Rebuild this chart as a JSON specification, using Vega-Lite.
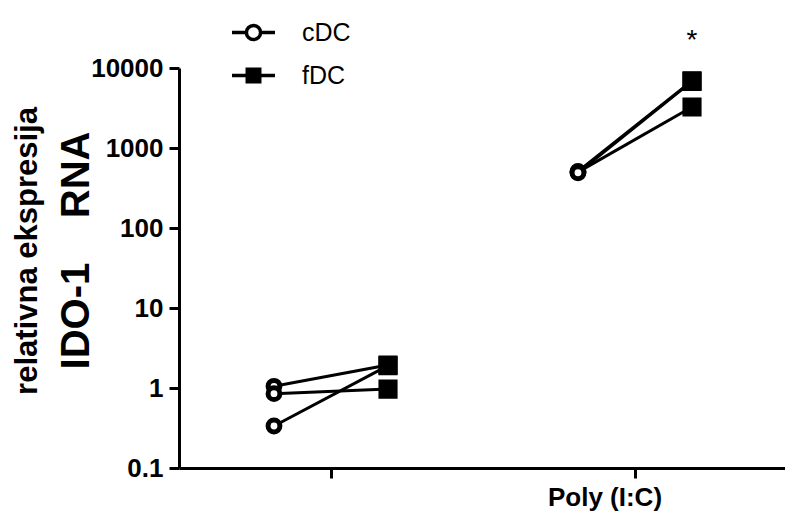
{
  "$schema": "https://vega.github.io/schema/vega-lite/v6.json",
  "width": 608,
  "height": 400,
  "autosize": {"type": "none"},
  "padding": {"left": 179, "top": 68, "right": 0, "bottom": 47},
  "background": "white",
  "config": {
    "font": "Liberation Sans",
    "view": {"stroke": null},
    "axis": {"grid": false, "domainColor": "black", "tickColor": "black", "labelColor": "black", "titleColor": "black", "domainWidth": 3, "tickWidth": 3}
  },
  "title": {
    "text": "relativna ekspresija",
    "orient": "left",
    "anchor": "middle",
    "offset": 12,
    "dx": 17,
    "fontSize": 31,
    "fontWeight": "bold",
    "color": "black",
    "font": "Liberation Sans"
  },
  "datasets": {
    "pts": [
      {"condition": "kontrola", "cell": "cDC", "pair": "1", "value": 1.05},
      {"condition": "kontrola", "cell": "fDC", "pair": "1", "value": 1.94},
      {"condition": "kontrola", "cell": "cDC", "pair": "2", "value": 0.85},
      {"condition": "kontrola", "cell": "fDC", "pair": "2", "value": 0.97},
      {"condition": "kontrola", "cell": "cDC", "pair": "3", "value": 0.335},
      {"condition": "kontrola", "cell": "fDC", "pair": "3", "value": 1.9},
      {"condition": "Poly (I:C)", "cell": "cDC", "pair": "4", "value": 510},
      {"condition": "Poly (I:C)", "cell": "fDC", "pair": "4", "value": 6900},
      {"condition": "Poly (I:C)", "cell": "cDC", "pair": "5", "value": 500},
      {"condition": "Poly (I:C)", "cell": "fDC", "pair": "5", "value": 3250},
      {"condition": "Poly (I:C)", "cell": "cDC", "pair": "6", "value": 490},
      {"condition": "Poly (I:C)", "cell": "fDC", "pair": "6", "value": 6800}
    ],
    "sig": [
      {"condition": "Poly (I:C)", "cell": "fDC", "value": 6900, "label": "*"}
    ]
  },
  "encoding": {
    "x": {
      "field": "condition",
      "type": "nominal",
      "sort": ["kontrola", "Poly (I:C)"],
      "scale": {"domain": ["kontrola", "Poly (I:C)"], "paddingInner": 0, "paddingOuter": 0},
      "axis": {
        "title": null,
        "labelAngle": 0,
        "labelExpr": "datum.value == 'Poly (I:C)' ? datum.value : ''",
        "labelFontSize": 26,
        "labelFontWeight": "bold",
        "labelPadding": 6,
        "labelOffset": -30,
        "tickSize": 10
      }
    },
    "xOffset": {
      "field": "cell",
      "type": "nominal",
      "scale": {"domain": ["cDC", "fDC"], "padding": 0.833}
    },
    "y": {
      "field": "value",
      "type": "quantitative",
      "scale": {"type": "log", "domain": [0.1, 10000], "nice": false},
      "axis": {
        "values": [0.1, 1, 10, 100, 1000, 10000],
        "format": "~g",
        "labelFontSize": 26,
        "labelFontWeight": "bold",
        "labelPadding": 6,
        "tickSize": 10,
        "title": "IDO-1\u00a0\u00a0\u00a0\u00a0RNA",
        "titleFontSize": 40,
        "titleFontWeight": "bold",
        "titleAngle": -90,
        "titleX": -103,
        "titleY": 182,
        "titleAlign": "center",
        "titleBaseline": "middle"
      }
    }
  },
  "layer": [
    {
      "data": {"name": "pts"},
      "mark": {"type": "line", "color": "black", "strokeWidth": 3},
      "encoding": {
        "detail": {"field": "pair", "type": "nominal"},
        "order": {"field": "cell", "type": "nominal"}
      }
    },
    {
      "data": {"name": "pts"},
      "mark": {"type": "point", "size": 1, "stroke": "black", "strokeWidth": 3, "opacity": 1},
      "encoding": {
        "shape": {
          "field": "cell",
          "type": "nominal",
          "scale": {
            "domain": ["cDC", "fDC"],
            "range": [
              "M-1,0H-0.33M0.33,0H1M-0.33,0A0.33,0.33 0 1,1 0.33,0A0.33,0.33 0 1,1 -0.33,0Z",
              "M-1,0H1M-0.29,-0.29H0.29V0.29H-0.29Z"
            ]
          },
          "legend": {
            "title": null,
            "orient": "none",
            "legendX": 51,
            "legendY": -59,
            "padding": 0,
            "symbolSize": 1849,
            "symbolStrokeWidth": 3,
            "symbolStrokeColor": "black",
            "symbolOpacity": 1,
            "labelFontSize": 25,
            "labelColor": "black",
            "labelOffset": 25,
            "rowPadding": 5,
            "encode": {"symbols": {"update": {"stroke": {"value": "black"}, "strokeWidth": {"value": 3.5}, "opacity": {"value": 1}}}}
          }
        },
        "fill": {
          "field": "cell",
          "type": "nominal",
          "scale": {"domain": ["cDC", "fDC"], "range": ["white", "black"]},
          "legend": {
            "title": null,
            "orient": "none",
            "legendX": 51,
            "legendY": -59,
            "padding": 0,
            "symbolSize": 1849,
            "symbolStrokeWidth": 3,
            "symbolStrokeColor": "black",
            "symbolOpacity": 1,
            "labelFontSize": 25,
            "labelColor": "black",
            "labelOffset": 25,
            "rowPadding": 5,
            "encode": {"symbols": {"update": {"stroke": {"value": "black"}, "strokeWidth": {"value": 3.5}, "opacity": {"value": 1}}}}
          }
        }
      }
    },
    {
      "data": {"name": "pts"},
      "mark": {"type": "point", "stroke": "black", "strokeWidth": 5, "opacity": 1},
      "encoding": {
        "shape": {
          "field": "cell",
          "type": "nominal",
          "scale": {"domain": ["cDC", "fDC"], "range": ["circle", "square"]},
          "legend": null
        },
        "fill": {
          "field": "cell",
          "type": "nominal",
          "scale": {"domain": ["cDC", "fDC"], "range": ["white", "black"]},
          "legend": null
        },
        "size": {
          "field": "cell",
          "type": "nominal",
          "scale": {"domain": ["cDC", "fDC"], "range": [140, 200]},
          "legend": null
        }
      }
    },
    {
      "data": {"name": "sig"},
      "mark": {"type": "text", "fontSize": 28, "color": "black", "baseline": "middle", "dy": -40},
      "encoding": {
        "text": {"field": "label"}
      }
    }
  ],
  "resolve": {"scale": {"shape": "independent", "fill": "independent"}}
}
